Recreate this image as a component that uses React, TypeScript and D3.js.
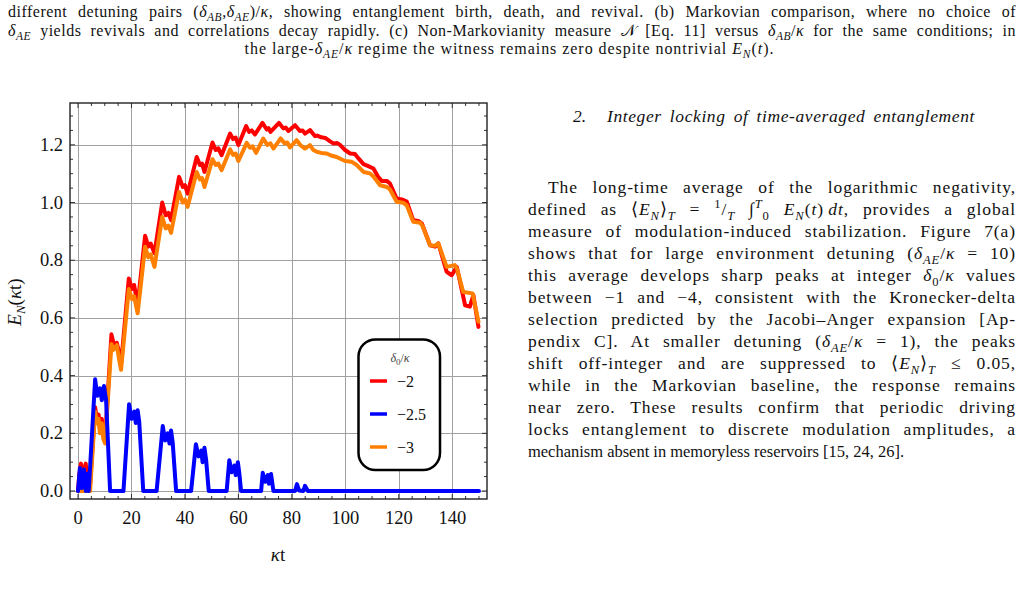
import { useLayoutEffect, useRef } from "react";
import * as d3 from "d3";

// E_N(kt): [kt, value]
const red: [number, number][] = [
  [0, 0], [0.5, 0.06], [1.1, 0.095], [1.6, 0.04], [2.1, 0.07], [2.9, 0.095], [3.4, 0.03], [4.0, 0], [4.5, 0.02],
  [6.4, 0.29], [7.0, 0.25], [7.7, 0.265], [8.2, 0.215], [8.9, 0.25], [9.5, 0.19], [10.1, 0.175],
  [12.5, 0.543], [13.6, 0.5], [14.5, 0.514], [15.3, 0.483], [16.1, 0.44],
  [19.0, 0.737], [20.2, 0.7], [21.0, 0.714], [22.3, 0.645],
  [25.1, 0.885], [26.3, 0.847], [27.2, 0.858], [28.6, 0.824],
  [31.5, 1.0], [32.8, 0.956], [33.8, 0.964], [34.8, 0.939],
  [37.8, 1.089], [39.2, 1.054], [40.0, 1.06], [41.0, 1.031],
  [44.4, 1.158], [45.6, 1.13], [46.4, 1.135], [47.3, 1.106],
  [50.3, 1.208], [51.5, 1.182], [52.5, 1.188], [53.7, 1.164],
  [56.9, 1.239], [58.0, 1.22], [59.0, 1.225], [60.0, 1.199],
  [62.9, 1.265], [64.0, 1.245], [65.0, 1.25], [66.2, 1.236],
  [69.0, 1.276], [70.6, 1.253], [71.3, 1.258], [72.0, 1.245],
  [75.2, 1.276], [76.8, 1.257], [77.7, 1.26], [78.7, 1.248],
  [81.2, 1.268], [83.0, 1.248], [84.0, 1.25], [84.9, 1.239],
  [86.8, 1.251], [88.7, 1.23], [89.5, 1.232], [91.0, 1.226], [92.5, 1.224], [94.3, 1.212],
  [95.5, 1.205], [97.0, 1.206], [98.0, 1.2], [99.9, 1.182], [101.8, 1.17], [103.6, 1.168],
  [105.0, 1.152], [106.8, 1.133], [108.6, 1.126], [110.5, 1.118], [112.2, 1.09],
  [113.6, 1.075], [115.5, 1.075], [116.7, 1.066], [119.2, 1.014], [121.1, 1.011], [123.0, 1.003],
  [125.4, 0.939], [127.3, 0.936], [128.6, 0.928], [131.7, 0.852], [133.6, 0.847], [134.8, 0.858],
  [137.9, 0.76], [139.8, 0.748], [141.7, 0.777], [144.8, 0.644], [146.6, 0.639], [147.9, 0.679],
  [149.8, 0.569],
];

const blue: [number, number][] = [
  [0, 0], [0.7, 0.08], [1.4, 0.01], [2.2, 0.075], [2.9, 0], [3.5, 0.06], [4.0, 0],
  [6.4, 0.387], [7.2, 0.33], [8.2, 0.356], [8.9, 0.315], [9.7, 0.364], [10.5, 0.315], [12.0, 0],
  [17.0, 0], [19.1, 0.301], [20.1, 0.25], [21.1, 0.275], [21.6, 0.236], [22.3, 0.28], [22.9, 0.24], [24.4, 0],
  [29.4, 0], [31.7, 0.225], [32.6, 0.175], [33.6, 0.2], [34.2, 0.165], [34.8, 0.21], [35.4, 0.17], [36.7, 0],
  [42.3, 0], [44.1, 0.162], [45.1, 0.12], [46.1, 0.14], [46.6, 0.1], [47.3, 0.15], [47.9, 0.11], [48.9, 0],
  [55.6, 0], [56.6, 0.107], [57.5, 0.065], [58.5, 0.088], [59.0, 0.055], [59.8, 0.1], [60.3, 0.065], [61.0, 0],
  [68.5, 0], [69.1, 0.063], [70.0, 0.032], [71.0, 0.055], [71.4, 0.025], [72.2, 0.059], [73.1, 0],
  [81.2, 0], [81.9, 0.024], [82.7, 0.002], [84.3, 0], [84.9, 0.018], [86.0, 0], [150, 0],
];

const orange: [number, number][] = [
  [0, 0], [4.5, 0],
  [6.4, 0.275], [7.0, 0.235], [7.7, 0.25], [8.2, 0.2], [8.9, 0.235], [9.5, 0.18], [10.1, 0.165],
  [12.5, 0.51], [13.2, 0.489], [14.5, 0.506], [15.3, 0.46], [16.1, 0.42],
  [19.0, 0.7], [20.2, 0.665], [21.0, 0.675], [22.3, 0.616],
  [25.1, 0.847], [26.3, 0.81], [27.2, 0.82], [28.6, 0.777],
  [31.5, 0.95], [32.8, 0.91], [33.8, 0.92], [34.8, 0.895],
  [37.8, 1.037], [39.2, 1.0], [40.0, 1.01], [41.0, 0.985],
  [44.4, 1.106], [45.6, 1.08], [46.4, 1.085], [47.3, 1.054],
  [50.3, 1.15], [51.5, 1.13], [52.5, 1.135], [53.7, 1.112],
  [56.9, 1.184], [58.0, 1.165], [59.0, 1.17], [60.0, 1.144],
  [63.1, 1.207], [64.3, 1.19], [65.3, 1.195], [66.6, 1.172],
  [69.3, 1.222], [70.8, 1.2], [72.0, 1.205], [73.1, 1.187],
  [75.8, 1.222], [77.3, 1.205], [78.3, 1.208], [79.3, 1.191],
  [81.8, 1.216], [83.3, 1.198], [84.9, 1.187], [86.8, 1.199], [88.0, 1.182], [89.3, 1.176],
  [91.0, 1.172], [93.0, 1.17], [95.0, 1.162], [96.8, 1.158], [98.5, 1.15], [99.9, 1.144],
  [102.4, 1.141], [104.3, 1.13], [106.8, 1.106], [109.2, 1.101], [110.5, 1.09], [113.0, 1.06],
  [115.5, 1.054], [116.7, 1.045], [119.2, 1.003], [121.7, 0.999], [123.0, 0.99],
  [125.4, 0.933], [128.0, 0.93], [128.8, 0.92], [131.7, 0.852], [133.5, 0.85], [134.8, 0.858],
  [137.9, 0.777], [141.0, 0.783], [141.8, 0.77], [144.1, 0.69], [147.6, 0.685], [149.8, 0.587],
];

const legendLabels = ["\u22122", "\u22122.5", "\u22123"];
const xTicks = [0, 20, 40, 60, 80, 100, 120, 140];
const yTicks = [0, 0.2, 0.4, 0.6, 0.8, 1.0, 1.2];

type Seg = [string, string?, number?];

const captionLines: Seg[][] = [
  [["different detuning pairs ("], ["\u03b4", "i"], ["AB", "bi"], [","], ["\u03b4", "i"], ["AE", "bi"], [")/"], ["\u03ba", "i"],
    [", showing entanglement birth, death, and revival. (b) Markovian comparison, where no choice of"]],
  [["\u03b4", "i"], ["AE", "bi"], [" yields revivals and correlations decay rapidly. (c) Non-Markovianity measure "], ["\ud835\udca9"],
    [" [Eq. 11] versus "], ["\u03b4", "i"], ["AB", "bi"], ["/"], ["\u03ba", "i"], [" for the same conditions; in"]],
  [["the large-"], ["\u03b4", "i"], ["AE", "bi"], ["/"], ["\u03ba", "i"], [" regime the witness remains zero despite nontrivial "],
    ["E", "i"], ["N", "bi"], ["("], ["t", "i"], [")."]],
];

const paragraph: Seg[][] = [
  [["The long-time average of the logarithmic negativity,"]],
  [["defined as \u27e8"], ["E", "i"], ["N", "bi"], ["\u27e9"], ["T", "bi"], [" = "], ["1", "p"], ["/"], ["T", "bi"], [" \u222b"], ["T", "pi"], ["0", "b"],
    [" "], ["E", "i"], ["N", "bi"], ["("], ["t", "i"], [")\u2009"], ["dt", "i"], [", provides a global"]],
  [["measure of modulation-induced stabilization. Figure 7(a)"]],
  [["shows that for large environment detuning ("], ["\u03b4", "i"], ["AE", "bi"], ["/"], ["\u03ba", "i"], [" = 10)"]],
  [["this average develops sharp peaks at integer "], ["\u03b4", "i"], ["0", "b"], ["/"], ["\u03ba", "i"], [" values"]],
  [["between \u22121 and \u22124, consistent with the Kronecker-delta"]],
  [["selection predicted by the Jacobi\u2013Anger expansion [Ap-"]],
  [["pendix C]. At smaller detuning ("], ["\u03b4", "i"], ["AE", "bi"], ["/"], ["\u03ba", "i"], [" = 1), the peaks"]],
  [["shift off-integer and are suppressed to \u27e8"], ["E", "i"], ["N", "bi"], ["\u27e9"], ["T", "bi"], [" \u2264 0.05,"]],
  [["while in the Markovian baseline, the response remains"]],
  [["near zero. These results confirm that periodic driving"]],
  [["locks entanglement to discrete modulation amplitudes, a"]],
  [["mechanism absent in memoryless reservoirs [15, 24, 26]."]],
];

const SERIF = "'Liberation Serif', 'Times New Roman', serif";

// justified text: letters get a little extra room, word gaps take the rest
function Rich({ x, y, segs, size, len, ls = 0, anchor, italic, squeeze }: {
  x: number; y: number; segs: Seg[]; size: number; len?: number; ls?: number; anchor?: string; italic?: boolean; squeeze?: boolean;
}) {
  const ref = useRef<SVGTextElement>(null);
  useLayoutEffect(() => {
    const el = ref.current;
    if (!el || !len || squeeze) return;
    el.setAttribute("word-spacing", "0");
    const natural = el.getComputedTextLength();
    const spaces = (el.textContent || "").split(" ").length - 1;
    if (spaces > 0) el.setAttribute("word-spacing", String(Math.max(0, (len - natural) / spaces)));
  }, [len, squeeze]);
  let shift = 0;
  return (
    <text ref={ref} x={x} y={y} fontSize={size} fontFamily={SERIF} textAnchor={anchor} letterSpacing={ls}
      textLength={squeeze ? len : undefined} lengthAdjust={squeeze ? "spacingAndGlyphs" : undefined}
      fontStyle={italic ? "italic" : "normal"} fill="#111">
      {segs.map(([s, st = "", dx], i) => {
        const small = st.includes("b") || st.includes("p");
        const target = st.includes("b") ? 0.28 * size : st.includes("p") ? -0.4 * size : 0;
        const dy = target - shift;
        shift = target;
        return (
          <tspan key={i} dy={dy || undefined} dx={dx} fontSize={small ? size * 0.72 : undefined}
            fontStyle={st.includes("i") ? "italic" : undefined}>{s}</tspan>
        );
      })}
    </text>
  );
}

export default function App() {
  const W = 1024, H = 592;
  const left = 70, right = 487, top = 103, bottom = 499;
  const x = d3.scaleLinear().domain([-3, 153]).range([left, right]);
  const y = d3.scaleLinear().domain([-0.0277, 1.345]).range([bottom, top]);
  const line = d3.line<[number, number]>().x((d) => x(d[0])).y((d) => y(d[1])).curve(d3.curveLinear);

  const xMinor = d3.range(0, 151, 5).filter((v) => v % 20 !== 0);
  const yMinor = d3.range(0, 27).map((i) => i * 0.05).filter((v, i) => i % 4 !== 0 && v < 1.34);

  const series = [
    { data: red, color: "#ff0000" },
    { data: orange, color: "#ff8000" },
    { data: blue, color: "#0000ff" },
  ];
  const legendColors = ["#ff0000", "#0000ff", "#ff8000"];

  return (
    <svg width={W} height={H} style={{ position: "absolute", left: 0, top: 0, background: "#fff" }}>
      <defs>
        <clipPath id="plotClip">
          <rect x={left} y={top} width={right - left} height={bottom - top} />
        </clipPath>
      </defs>

      {/* caption */}
      <Rich x={8} y={17} size={16} ls={0.5} len={1008} segs={captionLines[0]} />
      <Rich x={8} y={35.5} size={16} ls={0.5} len={1008} segs={captionLines[1]} />
      <Rich x={509.5} y={54} size={16} ls={0.95} anchor="middle" segs={captionLines[2]} />

      {/* grid */}
      <g stroke="#a0a0a0" strokeWidth={1}>
        {xTicks.map((t) => (
          <line key={"gx" + t} x1={Math.round(x(t)) + 0.5} x2={Math.round(x(t)) + 0.5} y1={top} y2={bottom} />
        ))}
        {yTicks.map((t) => (
          <line key={"gy" + t} x1={left} x2={right} y1={Math.round(y(t)) + 0.5} y2={Math.round(y(t)) + 0.5} />
        ))}
      </g>

      {/* curves */}
      <g clipPath="url(#plotClip)" fill="none" strokeWidth={4} strokeLinejoin="round" strokeLinecap="round">
        {series.map((s, i) => (
          <path key={i} d={line(s.data) || ""} stroke={s.color} />
        ))}
      </g>

      {/* frame and ticks */}
      <g stroke="#333" strokeWidth={1}>
        {xTicks.map((t) => (
          <g key={"tx" + t}>
            <line x1={x(t)} x2={x(t)} y1={bottom} y2={bottom - 5} />
            <line x1={x(t)} x2={x(t)} y1={top} y2={top + 5} />
          </g>
        ))}
        {xMinor.map((t) => (
          <g key={"mx" + t}>
            <line x1={x(t)} x2={x(t)} y1={bottom} y2={bottom - 3} />
            <line x1={x(t)} x2={x(t)} y1={top} y2={top + 3} />
          </g>
        ))}
        {yTicks.map((t) => (
          <g key={"ty" + t}>
            <line x1={left} x2={left + 5} y1={y(t)} y2={y(t)} />
            <line x1={right} x2={right - 5} y1={y(t)} y2={y(t)} />
          </g>
        ))}
        {yMinor.map((t) => (
          <g key={"my" + t}>
            <line x1={left} x2={left + 3} y1={y(t)} y2={y(t)} />
            <line x1={right} x2={right - 3} y1={y(t)} y2={y(t)} />
          </g>
        ))}
        <rect x={left} y={top} width={right - left} height={bottom - top} fill="none" strokeWidth={1.4} stroke="#222" />
      </g>

      {/* tick labels */}
      <g fontFamily={SERIF} fontSize={18.5} fill="#111">
        {xTicks.map((t) => (
          <text key={"lx" + t} x={x(t)} y={524} textAnchor="middle">{t}</text>
        ))}
        {yTicks.map((t) => (
          <text key={"ly" + t} x={63} y={y(t) + 6} textAnchor="end">{t.toFixed(1)}</text>
        ))}
      </g>

      {/* axis labels */}
      <text x={278} y={561} fontFamily={SERIF} fontSize={19} textAnchor="middle" fill="#111">
        <tspan fontStyle="italic">{"\u03ba"}</tspan>t
      </text>
      <g transform="translate(21,302) rotate(-90)">
        <text x={0} y={0} fontFamily={SERIF} fontSize={19} textAnchor="middle" fill="#111">
          <tspan fontStyle="italic">E</tspan>
          <tspan fontSize={13} dy={4} fontStyle="italic">N</tspan>
          <tspan dy={-4}>(</tspan>
          <tspan fontStyle="italic">{"\u03ba"}</tspan>
          <tspan>t)</tspan>
        </text>
      </g>

      {/* legend */}
      <g>
        <rect x={358.5} y={339.5} width={81.5} height={130.5} rx={17} ry={17} fill="#fff" stroke="#000" strokeWidth={2.5} />
        <text x={400} y={362} textAnchor="middle" fontFamily={SERIF} fontSize={12} fill="#444">
          <tspan fontStyle="italic">{"\u03b4"}</tspan>
          <tspan fontSize={9} dy={3}>0</tspan>
          <tspan dy={-3}>/</tspan>
          <tspan fontStyle="italic">{"\u03ba"}</tspan>
        </text>
        {legendLabels.map((lab, i) => (
          <g key={lab} transform={`translate(0,${381 + i * 33})`}>
            <line x1={370} x2={387} y1={0} y2={0} stroke={legendColors[i]} strokeWidth={3.5} />
            <text x={397} y={6} fontFamily={SERIF} fontSize={16} fill="#111">{lab}</text>
          </g>
        ))}
      </g>

      {/* right column text */}
      <text x={573} y={122} fontFamily={SERIF} fontSize={17.5} fontStyle="italic" fill="#111">2.</text>
      <Rich x={607} y={122} size={17.5} italic ls={0.6} len={368} segs={[["Integer locking of time-averaged entanglement"]]} />
      {paragraph.map((segs, i) => {
        const first = i === 0;
        const last = i === paragraph.length - 1;
        const x0 = first ? 548 : 528;
        return (
          <Rich key={i} x={x0} y={193 + i * 22} size={17.5} ls={last ? 0 : 0.9}
            len={last ? 376 : 1016 - x0} squeeze={last} segs={segs} />
        );
      })}
    </svg>
  );
}
